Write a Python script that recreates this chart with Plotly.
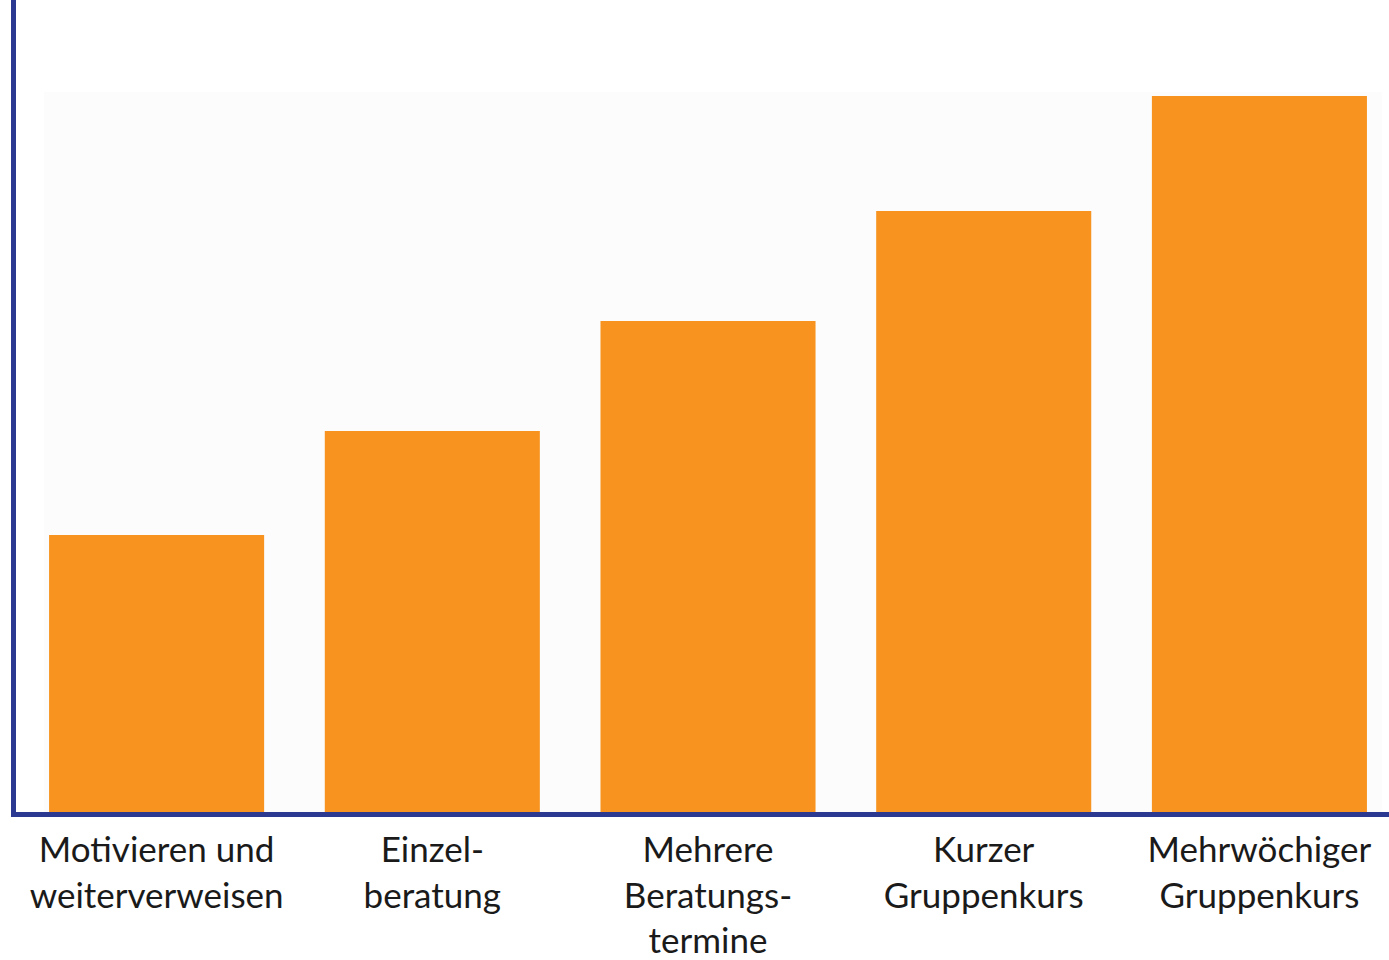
import plotly.graph_objects as go

categories = [
    "Motivieren und<br>weiterverweisen",
    "Einzel-<br>beratung",
    "Mehrere<br>Beratungs-<br>termine",
    "Kurzer<br>Gruppenkurs",
    "Mehrwöchiger<br>Gruppenkurs",
]
values = [2.77, 3.81, 4.91, 6.01, 7.16]

fig = go.Figure()
fig.add_trace(go.Bar(
    x=list(range(len(categories))),
    y=values,
    marker=dict(color="#F7931E", line=dict(width=0)),
    hoverinfo="skip",
))

fig.add_shape(type="rect", xref="paper", yref="paper",
              x0=0.0204, x1=0.9949, y0=0, y1=0.8867,
              fillcolor="#FCFCFC", line=dict(width=0), layer="below")

fig.update_layout(
    width=1389, height=960,
    margin=dict(l=16, r=0, t=0, b=148, autoexpand=False),
    paper_bgcolor="white", plot_bgcolor="white",
    bargap=0.22,
    showlegend=False,
    font=dict(family="Lato", size=35, color="#1a1a1a"),
    xaxis=dict(
        range=[-0.51, 4.47],
        tickmode="array",
        tickvals=list(range(len(categories))),
        ticktext=categories,
        showgrid=False, zeroline=False,
        showline=True, linecolor="#2B3990", linewidth=5,
        ticks="outside", ticklen=3, tickcolor="rgba(0,0,0,0)",
        tickangle=0, automargin=False,
    ),
    yaxis=dict(
        range=[0, 8.12],
        showgrid=False, zeroline=False,
        showticklabels=False, automargin=False,
        showline=True, linecolor="#2B3990", linewidth=5,
    ),
)

fig.write_html("out.html")
